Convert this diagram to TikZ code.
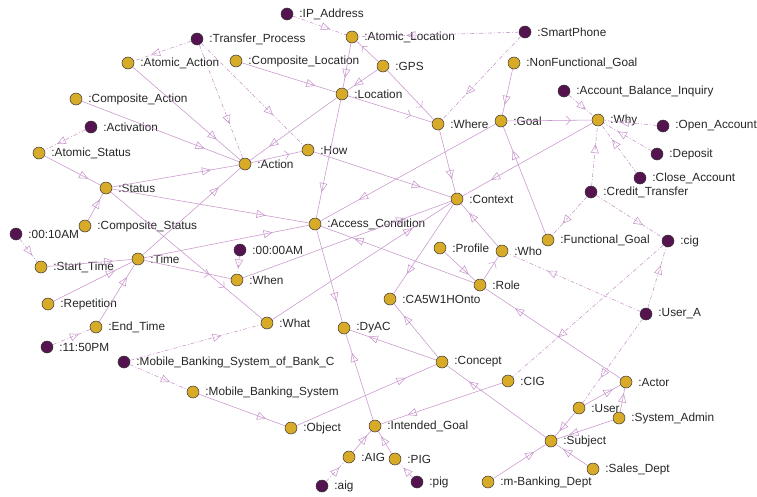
\documentclass[tikz,border=0pt]{standalone}
\usepackage{fontspec}
\setmainfont{Liberation Sans}
\usetikzlibrary{arrows.meta,decorations.markings}
\definecolor{edgecol}{RGB}{200,150,205}
\definecolor{clsfill}{RGB}{215,170,40}
\definecolor{indfill}{RGB}{85,20,80}
\tikzset{
  lbl/.style={font=\fontsize{11.8}{14}\selectfont,label distance=5pt,inner sep=1pt,text=black!85},
  dot/.style={circle,draw=black!80,line width=0.5pt,minimum size=12pt,inner sep=0pt,label={[lbl]right:{#1}}},
  cls/.style={dot={#1},fill=clsfill},
  ind/.style={dot={#1},fill=indfill},
  isa/.style={edgecol,line width=0.55pt,decoration={markings,mark=at position 0.78 with {\arrow{Triangle[open,length=9pt,width=8pt]}}},postaction={decorate}},
  io/.style={edgecol,line width=0.55pt,dash pattern=on 4pt off 2pt on 1pt off 2pt,decoration={markings,mark=at position 0.7 with {\arrow{Triangle[open,length=9pt,width=8pt]}}},postaction={decorate}},
  rel/.style={edgecol,line width=0.55pt,decoration={markings,mark=at position 0.75 with {\arrow{Straight Barb[length=4pt,width=9pt]}}},postaction={decorate}}
}
\begin{document}
\begin{tikzpicture}[x=1pt,y=-1pt]
  \path[use as bounding box,fill=white] (0,0) rectangle (757,496);
  \node[ind={:IP\_Address}] (ipaddr) at (287,14) {};
  \node[ind={:Transfer\_Process}] (transfer) at (197,39) {};
  \node[cls={:Atomic\_Location}] (atomloc) at (352,37) {};
  \node[ind={:SmartPhone}] (smartphone) at (525,32) {};
  \node[cls={:Atomic\_Action}] (atomact) at (128,63) {};
  \node[cls={:Composite\_Location}] (comploc) at (236,61) {};
  \node[cls={:GPS}] (gps) at (383,66) {};
  \node[cls={:NonFunctional\_Goal}] (nfgoal) at (514,63) {};
  \node[cls={:Location}] (location) at (342,94) {};
  \node[ind={:Account\_Balance\_Inquiry}] (abi) at (564,91) {};
  \node[cls={:Composite\_Action}] (compact) at (76,99) {};
  \node[cls={:Where}] (where) at (438,124) {};
  \node[cls={:Goal}] (goal) at (501,121) {};
  \node[cls={:Why}] (why) at (598,120) {};
  \node[ind={:Open\_Account}] (openacc) at (663,126) {};
  \node[ind={:Activation}] (activation) at (91,127) {};
  \node[cls={:How}] (how) at (308,150) {};
  \node[cls={:Atomic\_Status}] (atomstatus) at (39,153) {};
  \node[ind={:Deposit}] (deposit) at (657,154) {};
  \node[cls={:Action}] (action) at (245,164) {};
  \node[ind={:Close\_Account}] (closeacc) at (640,178) {};
  \node[cls={:Status}] (status) at (106,188) {};
  \node[ind={:Credit\_Transfer}] (credit) at (591,192) {};
  \node[cls={:Context}] (context) at (457,199) {};
  \node[cls={:Access\_Condition}] (accesscond) at (315,224) {};
  \node[cls={:Composite\_Status}] (compstatus) at (85,226) {};
  \node[ind={:00:10AM}] (t10am) at (16,234) {};
  \node[cls={:Functional\_Goal}] (fgoal) at (548,240) {};
  \node[ind={:cig}] (cigi) at (668,241) {};
  \node[cls={:Profile}] (profile) at (440,248) {};
  \node[ind={:00:00AM}] (t00am) at (240,250) {};
  \node[cls={:Who}] (who) at (502,251) {};
  \node[cls={:Time}] (time) at (138,259) {};
  \node[cls={:Start\_Time}] (starttime) at (41,267) {};
  \node[cls={:When}] (when) at (237,280) {};
  \node[cls={:Role}] (role) at (480,285) {};
  \node[cls={:CA5W1HOnto}] (onto) at (390,299) {};
  \node[cls={:Repetition}] (repetition) at (48,304) {};
  \node[ind={:User\_A}] (usera) at (646,314) {};
  \node[cls={:What}] (what) at (267,323) {};
  \node[cls={:End\_Time}] (endtime) at (96,327) {};
  \node[cls={:DyAC}] (dyac) at (344,328) {};
  \node[ind={:11:50PM}] (t1150pm) at (47,347) {};
  \node[ind={:Mobile\_Banking\_System\_of\_Bank\_C}] (mbsc) at (124,362) {};
  \node[cls={:Concept}] (concept) at (442,362) {};
  \node[cls={:CIG}] (cig) at (508,381) {};
  \node[cls={:Actor}] (actor) at (626,382) {};
  \node[cls={:Mobile\_Banking\_System}] (mbs) at (193,392) {};
  \node[cls={:User}] (user) at (579,408) {};
  \node[cls={:System\_Admin}] (sysadmin) at (619,418) {};
  \node[cls={:Intended\_Goal}] (intgoal) at (375,426) {};
  \node[cls={:Object}] (object) at (291,428) {};
  \node[cls={:Subject}] (subject) at (551,441) {};
  \node[cls={:AIG}] (aig) at (349,457) {};
  \node[cls={:PIG}] (pig) at (395,459) {};
  \node[cls={:Sales\_Dept}] (sales) at (593,469) {};
  \node[cls={:m-Banking\_Dept}] (mbdept) at (488,482) {};
  \node[ind={:aig}] (aigi) at (322,486) {};
  \node[ind={:pig}] (pigi) at (417,482) {};
  \foreach \a/\b in {ipaddr/atomloc,smartphone/atomloc,smartphone/where,transfer/atomact,transfer/action,transfer/how,
    activation/atomstatus,t10am/starttime,t00am/when,t1150pm/endtime,mbsc/what,mbsc/mbs,abi/why,openacc/why,
    deposit/why,closeacc/why,credit/why,credit/fgoal,credit/cigi,usera/who,usera/cigi,usera/user,cigi/cig,aigi/aig,pigi/pig}
    \draw[io] (\a) -- (\b);
  \foreach \a/\b in {atomloc/location,gps/location,comploc/location,location/action,location/accesscond,atomact/action,
    compact/action,atomstatus/status,compstatus/status,status/action,status/accesscond,time/action,time/accesscond,
    starttime/time,repetition/time,endtime/time,mbs/object,object/concept,what/context,when/context,how/context,
    where/context,why/context,who/context,goal/accesscond,nfgoal/goal,fgoal/goal,context/onto,role/accesscond,
    accesscond/dyac,profile/role,actor/role,user/actor,sysadmin/actor,user/subject,sysadmin/subject,sales/subject,
    mbdept/subject,subject/concept,cig/intgoal,concept/dyac,concept/onto,intgoal/dyac,aig/intgoal,pig/intgoal}
    \draw[isa] (\a) -- (\b);
  \foreach \a/\b in {gps/atomloc,gps/where,location/where,action/how,status/what,time/when,goal/why,role/who}
    \draw[rel] (\a) -- (\b);
\end{tikzpicture}
\end{document}
